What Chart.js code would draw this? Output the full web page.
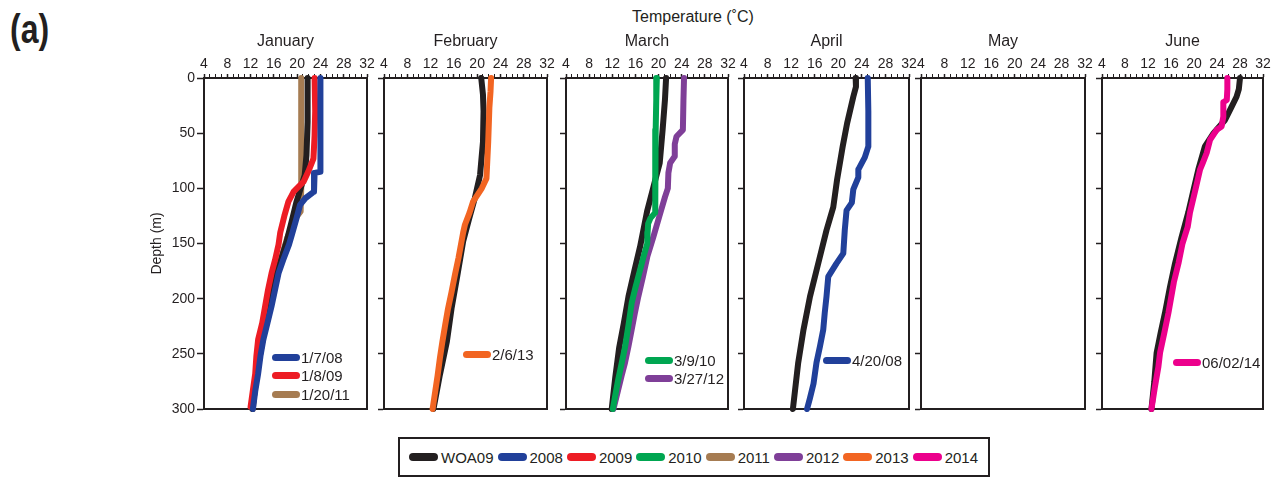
<!DOCTYPE html>
<html>
<head>
<meta charset="utf-8">
<script src="https://cdn.jsdelivr.net/npm/chart.js@4.4.0/dist/chart.umd.min.js"></script>
<style>
body { margin: 0; background: #fff; width: 1274px; height: 478px; position: relative; overflow: hidden;
       font-family: "Liberation Sans", Arial, sans-serif; color: #231f20; }
canvas { position: absolute; }
#tag { position: absolute; left: 10px; top: 9px; line-height: 40px; font: bold 40px/40px "Liberation Sans", Arial, sans-serif;
       transform: scaleX(0.8); transform-origin: 0 0; }
#ttl { position: absolute; left: 593px; width: 200px; top: 8px; line-height: 18px; text-align: center; font-size: 16px; }
.pleg { position: absolute; font-size: 15px; }
.pleg div { display: flex; align-items: center; height: 18.5px; white-space: nowrap; }
.sw { display: inline-block; width: 28px; height: 7px; border-radius: 4px; margin-right: 1px; }
#legend { position: absolute; left: 398px; top: 437px; width: 592px; height: 40px; box-sizing: border-box;
          border: 2px solid #231f20; display: flex; align-items: center; gap: 4px; padding-left: 9px; font-size: 15px; }
#legend span.it { display: flex; align-items: center; }
#legend .sw { width: 29px; height: 8px; margin-right: 3px; }
</style>
</head>
<body>
<div id="tag">(a)</div>
<div id="ttl">Temperature (˚C)</div>
<div id="legend"></div>

<script>
const months = ['January', 'February', 'March', 'April', 'May', 'June'];
const tempTicks = [4, 8, 12, 16, 20, 24, 28, 32];
const depthTicks = [0, 50, 100, 150, 200, 250, 300];
const years = ['WOA09', '2008', '2009', '2010', '2011', '2012', '2013', '2014'];
const yearColors = ['#231f20', '#21409a', '#ed1c24', '#00a651', '#a67c52', '#7f3f98', '#f26522', '#ec008c'];

// profiles: [temperature degC, depth m]
const janWOA09 = [[21.8,0],[21.8,40],[21.6,70],[21.3,88],[20.6,100],[19.9,112],[19.2,127],[18.2,148],[17.2,165],[16.3,180],[15.3,205],[14.3,230],[13.5,255],[12.8,280],[12.3,300]];
const jan2008 = [[24.0,0],[24.0,40],[24.0,85],[23.0,86],[22.9,95],[22.9,103],[21.4,109],[20.5,115],[19.9,127],[19.1,142],[18.6,151],[17.6,165],[16.8,177],[16.2,192],[15.6,207],[14.9,222],[14.2,237],[13.7,252],[13.3,268],[12.8,284],[12.4,300]];
const jan2009 = [[23.0,0],[23.1,30],[23.0,52],[22.8,73],[21.9,85],[21.1,94],[19.4,103],[18.5,112],[17.8,125],[17.1,140],[16.8,151],[16.2,165],[15.6,177],[15.0,192],[14.5,207],[14.0,222],[13.3,237],[13.0,252],[12.8,268],[12.4,283],[12.0,298]];
const jan2011 = [[20.7,0],[20.7,60],[20.7,100],[20.6,121],[19.6,128],[18.3,145],[16.3,180],[15.0,210],[13.8,240],[12.9,270],[12.4,300]];

const febWOA09 = [[20.7,0],[21.0,15],[21.1,30],[21.0,58],[20.5,88],[19.6,109],[18.6,128],[17.6,148],[16.6,179],[15.6,209],[14.8,239],[13.6,269],[12.5,300]];
const feb2013 = [[22.4,0],[22.3,12],[22.1,27],[21.9,58],[21.7,80],[21.6,91],[20.8,100],[19.3,112],[18.7,122],[17.9,133],[17.6,140],[16.8,163],[16.2,178],[15.6,194],[15.0,209],[14.5,224],[14.0,240],[13.6,254],[13.2,270],[12.8,284],[12.35,300]];

const marWOA09 = [[21.3,0],[21.1,20],[20.7,47],[20.2,77],[19.1,99],[18.05,120],[16.8,153],[15.8,175],[14.8,198],[14.0,222],[13.2,244],[12.5,272],[11.9,300]];
const mar2010 = [[19.7,0],[19.6,20],[19.5,47],[19.4,80],[19.4,99],[19.5,115],[19.4,122],[18.6,127],[18.2,132],[18.1,140],[18.05,150],[17.4,162],[16.8,174],[16.0,190],[15.35,204],[14.8,224],[14.2,244],[13.6,259],[13.0,274],[12.5,288],[12.1,300]];
const mar2012 = [[24.4,0],[24.3,20],[24.2,47],[23.1,53],[22.8,60],[22.8,71],[22.0,77],[21.7,86],[21.6,100],[21.1,108],[20.1,126],[19.1,144],[18.05,162],[17.3,180],[16.5,198],[15.9,213],[15.35,228],[14.8,243],[14.2,258],[13.6,270],[13.0,283],[12.2,300]];

const aprWOA09 = [[22.95,0],[23.0,8],[22.55,17],[21.5,41],[20.75,62],[19.8,92],[19.15,117],[18.0,138],[16.6,168],[15.2,198],[14.1,228],[13.2,258],[12.3,300]];
const apr2008 = [[25.0,0],[25.1,30],[25.1,62],[24.5,72],[24.0,77],[23.4,83],[23.4,90],[22.55,101],[22.3,113],[21.4,120],[21.1,138],[20.85,159],[19.7,168],[18.3,180],[18.0,198],[17.7,213],[17.45,228],[16.9,243],[16.3,258],[15.8,277],[15.2,290],[14.7,300]];

const junWOA09 = [[28.0,0],[27.8,10],[27.4,17],[26.55,26],[25.4,38],[23.4,50],[21.9,62],[20.75,83],[19.9,102],[19.0,122],[17.8,145],[16.7,168],[15.8,190],[14.95,213],[14.2,231],[13.5,249],[13.1,275],[12.6,300]];
const jun2014 = [[25.8,0],[25.8,10],[25.7,20],[25.1,22],[25.1,35],[24.8,44],[23.95,47],[22.8,56],[22.2,68],[21.6,76],[21.05,83],[20.3,100],[19.3,122],[18.9,135],[18.0,150],[17.3,168],[16.5,185],[15.55,213],[14.8,232],[14.1,249],[13.8,262],[13.2,280],[12.6,300]];

// series per month, top-most first: [year, profile, cast date]
const panelSeries = [
  [['2008', jan2008, '1/7/08'], ['2009', jan2009, '1/8/09'], ['WOA09', janWOA09, null], ['2011', jan2011, '1/20/11']],
  [['2013', feb2013, '2/6/13'], ['WOA09', febWOA09, null]],
  [['2010', mar2010, '3/9/10'], ['2012', mar2012, '3/27/12'], ['WOA09', marWOA09, null]],
  [['2008', apr2008, '4/20/08'], ['WOA09', aprWOA09, null]],
  [],
  [['2014', jun2014, '06/02/14'], ['WOA09', junWOA09, null]]
];

// layout (pixels)
const panelLeft = [204, 384, 566, 744, 921, 1102];
const panelWidth = [163, 163, 162, 165, 164, 161];
const legendPos = [[68, 348], [79, 345], [79, 351], [79, 351], null, [71, 353]];
const INK = '#231f20';
const FONT = '"Liberation Sans", Arial, sans-serif';
Chart.defaults.font.family = FONT;
Chart.defaults.color = INK;

const boxFrame = {
  id: 'boxFrame',
  beforeDatasetsDraw(c) {
    const a = c.chartArea, x = c.ctx;
    x.save();
    x.strokeStyle = INK; x.lineWidth = 2;
    x.beginPath();
    x.moveTo(a.right, a.top); x.lineTo(a.right, a.bottom); x.lineTo(a.left, a.bottom);
    x.stroke();
    x.restore();
  }
};

const colorOf = y => yearColors[years.indexOf(y)];

months.forEach((m, i) => {
  const first = i === 0;
  const yw = first ? 64 : 8;
  const padL = first ? 0 : 6;
  const padR = 12;
  const cl = panelLeft[i] - yw - padL;
  const cv = document.createElement('canvas');
  cv.width = yw + padL + panelWidth[i] + padR;
  cv.height = 50 + 331 + 12;
  cv.style.left = cl + 'px';
  cv.style.top = '28px';
  document.body.appendChild(cv);

  new Chart(cv, {
    type: 'line',
    data: {
      datasets: panelSeries[i].map(([y, prof]) => ({
        label: y,
        data: prof.map(([t, d]) => ({ x: t, y: d })),
        borderColor: colorOf(y),
        borderWidth: 6,
        borderCapStyle: 'round',
        borderJoinStyle: 'round',
        pointRadius: 0,
        fill: false,
        tension: 0,
        clip: 8
      }))
    },
    options: {
      responsive: false,
      animation: false,
      events: [],
      layout: { padding: { left: padL, right: padR, top: 0, bottom: 12 } },
      plugins: { legend: { display: false }, tooltip: { enabled: false } },
      scales: {
        x: {
          type: 'linear', position: 'top', min: 4, max: 32,
          afterFit: s => { s.height = 50; },
          ticks: {
            stepSize: 1, autoSkip: false, maxRotation: 0, minRotation: 0, padding: 1,
            font: { size: 14 }, color: INK,
            callback: v => tempTicks.includes(v) ? String(v) : ''
          },
          grid: {
            drawOnChartArea: false, tickLength: 4, tickColor: INK,
            tickWidth: c => (c.tick && tempTicks.includes(c.tick.value)) ? 1.5 : 1
          },
          border: { display: true, width: 2, color: INK },
          title: { display: true, text: m, font: { size: 16 }, color: INK, padding: { top: 4, bottom: 0 } }
        },
        y: {
          type: 'linear', reverse: true, min: depthTicks[0], max: depthTicks[depthTicks.length - 1],
          afterFit: s => { s.width = yw; },
          afterBuildTicks: s => { s.ticks = depthTicks.map(v => ({ value: v })); },
          ticks: { display: first, font: { size: 14 }, color: INK, padding: 2 },
          grid: { drawOnChartArea: false, tickLength: first ? 7 : 6, tickColor: INK, tickWidth: 1.5 },
          border: { display: true, width: 2, color: INK },
          title: { display: first, text: 'Depth (m)', font: { size: 14 }, color: INK, padding: { top: 9, bottom: 0 } }
        }
      }
    },
    plugins: [boxFrame]
  });

  // in-panel legend of cast dates
  const items = panelSeries[i].filter(s => s[2]);
  const order = items.slice().sort((a, b) => years.indexOf(a[0]) - years.indexOf(b[0]));
  if (order.length && legendPos[i]) {
    const lg = document.createElement('div');
    lg.className = 'pleg';
    lg.style.left = (panelLeft[i] + legendPos[i][0]) + 'px';
    lg.style.top = legendPos[i][1] + 'px';
    lg.innerHTML = order.map(([y, , d]) => `<div><span class="sw" style="background:${colorOf(y)}"></span>${d}</div>`).join('');
    document.body.appendChild(lg);
  }
});

document.getElementById('legend').innerHTML = years.map((y, k) =>
  `<span class="it"><span class="sw" style="background:${yearColors[k]}"></span>${y}</span>`).join('');
</script>
</body>
</html>
